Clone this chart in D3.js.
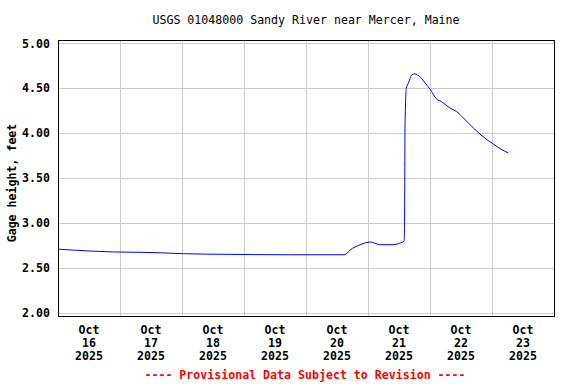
<!DOCTYPE html>
<meta charset="utf-8">
<style>
  body { margin: 0; background: #fff; }
  text { font-family: "DejaVu Sans Mono", monospace; font-size: 11.6px; }
  .tick text, .lbl { font-weight: bold; }
  .grid line { stroke: #cccccc; stroke-width: 1px; shape-rendering: crispEdges; }
</style>
<svg width="576" height="384"></svg>
<script src="https://d3js.org/d3.v7.min.js"></script>
<script>
// gage height readings (local time)
var times = [
  "2025-10-16 00:00", "2025-10-16 06:00", "2025-10-16 12:00", "2025-10-16 21:00",
  "2025-10-17 08:30", "2025-10-17 16:00", "2025-10-18 00:30", "2025-10-18 09:45",
  "2025-10-19 03:30", "2025-10-19 18:00", "2025-10-20 15:00", "2025-10-20 17:00",
  "2025-10-20 21:00", "2025-10-21 01:00", "2025-10-21 04:30", "2025-10-21 09:45",
  "2025-10-21 12:30", "2025-10-21 14:00", "2025-10-21 14:10", "2025-10-21 14:20",
  "2025-10-21 14:50", "2025-10-21 15:40", "2025-10-21 16:20", "2025-10-21 16:55",
  "2025-10-21 18:10", "2025-10-21 19:05", "2025-10-21 20:25", "2025-10-21 22:05",
  "2025-10-22 00:00", "2025-10-22 02:35", "2025-10-22 04:30", "2025-10-22 07:45",
  "2025-10-22 10:20", "2025-10-22 12:55", "2025-10-22 16:45", "2025-10-22 20:35",
  "2025-10-23 00:30", "2025-10-23 03:05", "2025-10-23 06:20"
];
var heights = [
  2.71, 2.70, 2.69, 2.68,
  2.675, 2.67, 2.66, 2.655,
  2.65, 2.648, 2.648, 2.70,
  2.76, 2.79, 2.76, 2.76,
  2.78, 2.80, 3.09, 4.07,
  4.50, 4.56, 4.61, 4.65,
  4.66, 4.65, 4.62, 4.56,
  4.49, 4.38, 4.35, 4.28,
  4.24, 4.17, 4.06, 3.96,
  3.88, 3.83, 3.78
];
var yTicks = [2.0, 2.5, 3.0, 3.5, 4.0, 4.5, 5.0];
var dayLabels = ["16", "17", "18", "19", "20", "21", "22", "23"];

var parse = d3.timeParse("%Y-%m-%d %H:%M");
var data = times.map(function(t, i) { return { t: parse(t), v: heights[i] }; });

var svg = d3.select("svg"),
    pLeft = 58, pRight = 554, pTop = 40, pBottom = 316;

var x = d3.scaleTime()
    .domain([parse("2025-10-16 00:00"), parse("2025-10-24 00:00")])
    .range([pLeft, pRight]);
var y = d3.scaleLinear()
    .domain([1.967, 5.037])
    .range([pBottom, pTop]);

// grid
var days = d3.timeDay.range(parse("2025-10-17 00:00"), parse("2025-10-24 00:00"));
var grid = svg.append("g").attr("class", "grid");
grid.selectAll(".v").data(days).enter().append("line")
    .attr("x1", function(d) { return Math.round(x(d)) + 0.5; })
    .attr("x2", function(d) { return Math.round(x(d)) + 0.5; })
    .attr("y1", pTop).attr("y2", pBottom);
grid.selectAll(".h").data(yTicks).enter().append("line")
    .attr("x1", pLeft).attr("x2", pRight)
    .attr("y1", function(d) { return Math.round(y(d)) + 0.5; })
    .attr("y2", function(d) { return Math.round(y(d)) + 0.5; });

// y axis labels
var yAxis = svg.append("g").attr("transform", "translate(" + pLeft + ",0)")
    .call(d3.axisLeft(y).tickValues(yTicks).tickFormat(d3.format(".2f")).tickSize(0).tickPadding(8));
yAxis.select(".domain").remove();
yAxis.selectAll("text").attr("fill", "#000").style("font-size", "11.6px");

// x labels, centered at noon
var noons = dayLabels.map(function(d) { return parse("2025-10-" + d + " 12:00"); });
var xl = svg.append("g").selectAll("text").data(noons).enter().append("text")
    .attr("class", "lbl")
    .attr("text-anchor", "middle")
    .attr("x", function(d) { return x(d); })
    .attr("y", 334);
xl.append("tspan").attr("x", function(d) { return x(d); }).text("Oct");
xl.append("tspan").attr("x", function(d) { return x(d); }).attr("dy", 13)
    .text(function(d, i) { return dayLabels[i]; });
xl.append("tspan").attr("x", function(d) { return x(d); }).attr("dy", 13).text("2025");

// the line
svg.append("path")
    .datum(data)
    .attr("fill", "none")
    .attr("stroke", "#0000ff")
    .attr("stroke-width", 1)
    .attr("d", d3.line().curve(d3.curveMonotoneX)
        .x(function(d) { return x(d.t); }).y(function(d) { return y(d.v); }));

// frame
svg.append("rect")
    .attr("x", pLeft + 0.5).attr("y", pTop + 0.5)
    .attr("width", pRight - pLeft).attr("height", pBottom - pTop)
    .attr("fill", "none").attr("stroke", "#000");

svg.append("text")
    .attr("x", 306).attr("y", 24)
    .attr("text-anchor", "middle")
    .text("USGS 01048000 Sandy River near Mercer, Maine");

svg.append("text")
    .attr("class", "lbl")
    .attr("transform", "translate(16,183) rotate(-90)")
    .attr("text-anchor", "middle")
    .text("Gage height, feet");

svg.append("text")
    .attr("class", "lbl")
    .attr("x", 305).attr("y", 379)
    .attr("text-anchor", "middle")
    .attr("fill", "#ff0000")
    .text("---- Provisional Data Subject to Revision ----");
</script>
